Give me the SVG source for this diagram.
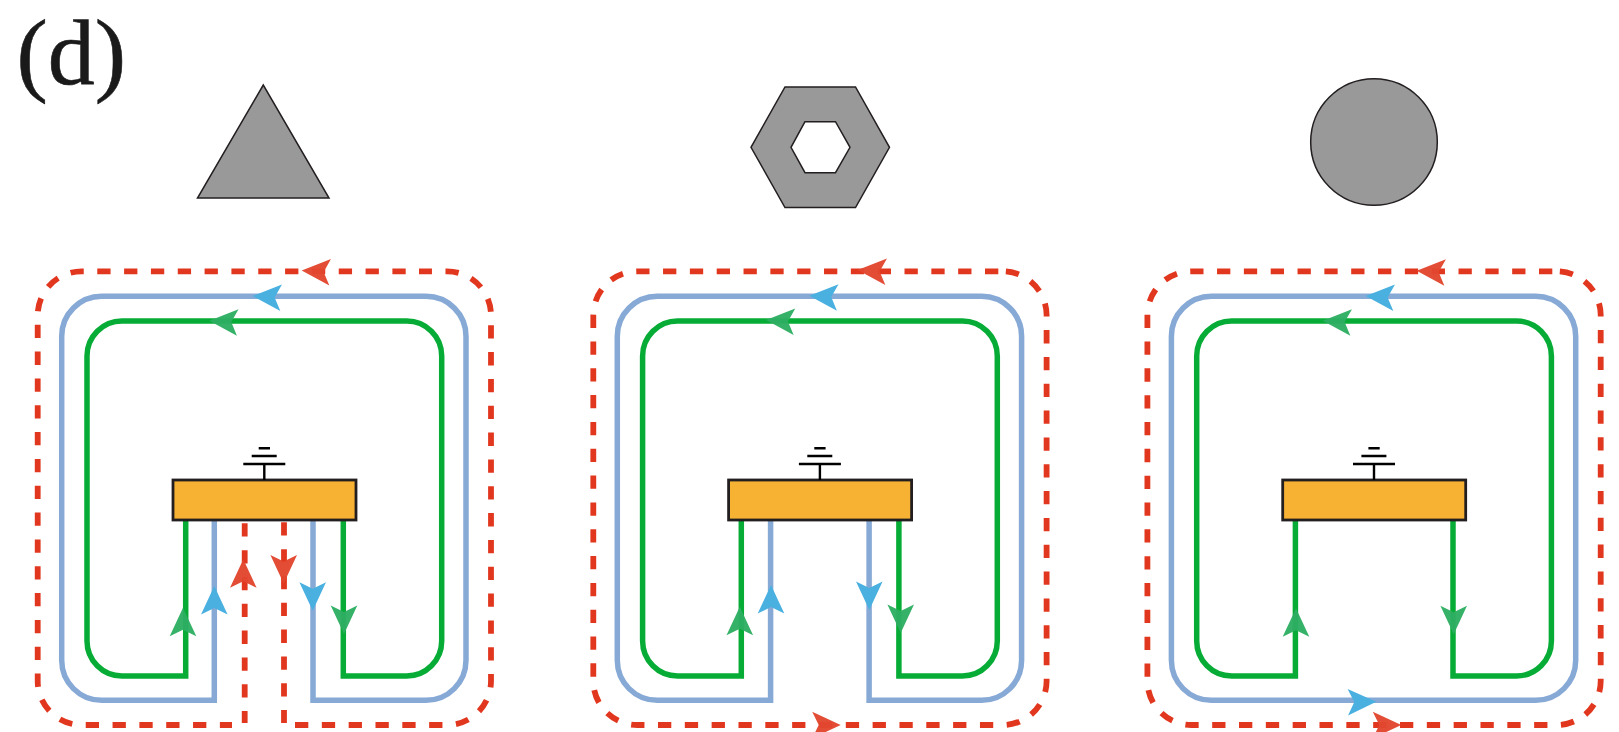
<svg xmlns="http://www.w3.org/2000/svg" width="1619" height="732" viewBox="0 0 1619 732">
<style>
.shape{fill:#999;stroke:#231F20;stroke-width:1.5}
.ctl{fill:#F7B233;stroke:#231F20;stroke-width:2.8}
.gnd{stroke:#000;stroke-width:2.4;fill:none}
.g{fill:none;stroke:#07AC36;stroke-width:5.5;stroke-miterlimit:10}
.b{fill:none;stroke:#87A9D6;stroke-width:5.5;stroke-miterlimit:10}
.r{fill:none;stroke:#E2371F;stroke-width:5.8;stroke-dasharray:13.3 13.53}
.ag{fill:#2EAE62;fill-opacity:.96}
.ab{fill:#4AB0E0}
.ar{fill:#E2472E;fill-opacity:.97}
</style>
<defs>
<polygon id="ah" points="-1,0 -29.5,-13.3 -23,0 -29.5,13.3"/>
<g id="ground" class="gnd"><path d="M264.3,465V480M243.3,464H285.3M251.7,456H276.7M258.7,448.3H270"/></g>
<path id="gl" class="g" d="M185.7,520V676H122A35,35 0 0 1 87,641V356A35,35 0 0 1 122,321H406.7A35,35 0 0 1 441.7,356V641A35,35 0 0 1 406.7,676H343.3V520"/>
</defs>
<text x="16.5" y="84" font-family="'Liberation Serif','Times New Roman',serif" font-size="94" fill="#1A1A1A" stroke="#1A1A1A" stroke-width=".6">(d)</text>
<g id="shape-triangle"><polygon class="shape" points="263.3,85 197.5,198 329,198"/></g>
<g id="shape-hexagon"><path class="shape" fill-rule="evenodd" d="M785,87H855.5L889.5,147.3L855.5,207.5H785L751,147.3ZM805,121.7L791,147.3L805,172.7H835.5L850,147.3L835.5,121.7Z"/></g>
<g id="shape-circle"><circle class="shape" cx="1374" cy="142" r="63.3"/></g>
<g id="connectors">
<g id="loops-1">
<use href="#gl"/>
<path class="b" d="M214.3,520V700.3H101.7A40,40 0 0 1 61.7,660.3V336.3A40,40 0 0 1 101.7,296.3H426A40,40 0 0 1 466,336.3V660.3A40,40 0 0 1 426,700.3H313V520"/>
<path class="r" d="M405.7,271.3H81.7A44,44 0 0 0 37.7,315.3V681A44,44 0 0 0 81.7,725H232"/>
<path class="r" d="M295,725H447A44,44 0 0 0 491,681V315.3A44,44 0 0 0 447,271.3H419"/>
<path class="r" d="M244.7,523.3V723"/>
<path class="r" d="M284,522.3V723"/>
</g>
<g id="loops-2" transform="translate(555.6 0)">
<use href="#gl"/>
<path class="b" d="M215,520V700.3H101.7A40,40 0 0 1 61.7,660.3V336.3A40,40 0 0 1 101.7,296.3H426A40,40 0 0 1 466,336.3V660.3A40,40 0 0 1 426,700.3H313.5V520"/>
<path class="r" d="M442.7,271.3H81.7A44,44 0 0 0 37.7,315.3V681A44,44 0 0 0 81.7,725H447A44,44 0 0 0 491,681V315.3A44,44 0 0 0 447,271.3"/>
</g>
<g id="loops-3" transform="translate(1109.7 0)">
<use href="#gl"/>
<path class="b" d="M101.7,700.3A40,40 0 0 1 61.7,660.3V336.3A40,40 0 0 1 101.7,296.3H426A40,40 0 0 1 466,336.3V660.3A40,40 0 0 1 426,700.3Z"/>
<path class="r" d="M442.6,271.3H81.7A44,44 0 0 0 37.7,315.3V681A44,44 0 0 0 81.7,725H447A44,44 0 0 0 491,681V315.3A44,44 0 0 0 447,271.3"/>
</g>
<g id="arrowheads">
<use href="#ah" class="ar" transform="translate(300.7 270.5) rotate(183.5)"/>
<use href="#ah" class="ab" transform="translate(251.7 296) rotate(183.5)"/>
<use href="#ah" class="ag" transform="translate(208.3 320.7) rotate(183.5)"/>
<use href="#ah" class="ag" transform="translate(183 606.7) rotate(-90)"/>
<use href="#ah" class="ab" transform="translate(214.3 585) rotate(-90)"/>
<use href="#ah" class="ar" transform="translate(243.3 558.3) rotate(-90)"/>
<use href="#ah" class="ar" transform="translate(283.7 584.5) rotate(90)"/>
<use href="#ah" class="ab" transform="translate(312.7 611.7) rotate(90)"/>
<use href="#ah" class="ag" transform="translate(344 635) rotate(90)"/>
<use href="#ah" class="ar" transform="translate(856.7 270) rotate(183.5)"/>
<use href="#ah" class="ab" transform="translate(808.3 295.7) rotate(183.5)"/>
<use href="#ah" class="ag" transform="translate(765 320) rotate(183.5)"/>
<use href="#ah" class="ag" transform="translate(739.8 605.7) rotate(-90)"/>
<use href="#ah" class="ab" transform="translate(771 584) rotate(-90)"/>
<use href="#ah" class="ab" transform="translate(869.3 611) rotate(90)"/>
<use href="#ah" class="ag" transform="translate(900.7 634) rotate(90)"/>
<use href="#ah" class="ar" transform="translate(841.7 725)"/>
<use href="#ah" class="ar" transform="translate(1415.7 270.7) rotate(183.5)"/>
<use href="#ah" class="ab" transform="translate(1364.7 296) rotate(183.5)"/>
<use href="#ah" class="ag" transform="translate(1321.7 320.7) rotate(183.5)"/>
<use href="#ah" class="ag" transform="translate(1296 607.3) rotate(-90)"/>
<use href="#ah" class="ag" transform="translate(1453.7 635.3) rotate(90)"/>
<use href="#ah" class="ab" transform="translate(1377.3 701.7) rotate(-1)"/>
<use href="#ah" class="ar" transform="translate(1402.3 725)"/>
</g>
</g>
<g id="controller-1"><rect class="ctl" x="173" y="480" width="183" height="40"/><use href="#ground"/></g>
<g id="controller-2" transform="translate(555.6 0)"><rect class="ctl" x="173" y="480" width="183" height="40"/><use href="#ground"/></g>
<g id="controller-3" transform="translate(1109.7 0)"><rect class="ctl" x="173" y="480" width="183" height="40"/><use href="#ground"/></g>
</svg>
